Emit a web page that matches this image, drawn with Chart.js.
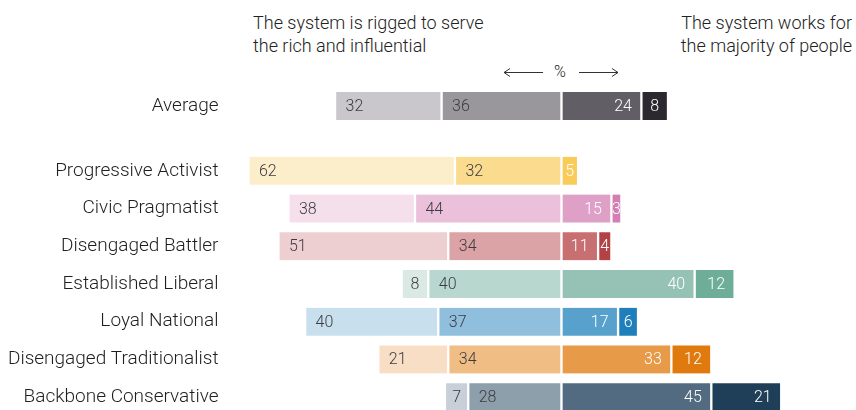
<!DOCTYPE html>
<html>
<head>
<meta charset="utf-8">
<script src="https://cdn.jsdelivr.net/npm/chart.js@4/dist/chart.umd.min.js"></script>
<style>
  html, body { margin: 0; padding: 0; background: #fff; }
  body { width: 856px; height: 410px; overflow: hidden; position: relative; font-family: Roboto, "Noto Sans", sans-serif; color: #222; }
  .hdr { position: absolute; top: 11px; font-size: 18px; font-weight: 300; line-height: 23px; white-space: nowrap; }
  .hdr.left { left: 253px; }
  .hdr.right { right: 4px; text-align: right; }
  .pct { position: absolute; left: 500px; top: 61px; width: 123px; height: 22px; }
  .pct span { position: absolute; left: 0; width: 120px; text-align: center; top: 0; font-size: 16px; font-weight: 300; line-height: 22px; }
  .box { position: absolute; left: 0; width: 856px; }
</style>
</head>
<body>
<div class="hdr left">The system is rigged to serve<br>the rich and influential</div>
<div class="hdr right">The system works for<br>the majority of people</div>
<div class="pct">
  <svg width="123" height="22" style="position:absolute;left:0;top:0">
    <g stroke="#333" stroke-width="1" fill="none">
      <line x1="4" y1="11.5" x2="43" y2="11.5"/>
      <polyline points="10,7.5 4,11.5 10,15.5"/>
      <line x1="79" y1="11.5" x2="118" y2="11.5"/>
      <polyline points="112,7.5 118,11.5 112,15.5"/>
    </g>
  </svg>
  <span>%</span>
</div>
<div class="box" style="top:88px;height:36px"><canvas id="avgChart"></canvas></div>
<div class="box" style="top:152px;height:264px"><canvas id="segChart"></canvas></div>

<script>
// Share of each group saying the system is rigged vs. works (%)
const averageLabel = ['Average'];
const avgRiggedOuter = [32];
const avgRiggedInner = [36];
const avgWorksInner = [24];
const avgWorksOuter = [8];

const segments = [
  'Progressive Activist',
  'Civic Pragmatist',
  'Disengaged Battler',
  'Established Liberal',
  'Loyal National',
  'Disengaged Traditionalist',
  'Backbone Conservative'
];
const riggedOuter = [62, 38, 51, 8, 40, 21, 7];
const riggedInner = [32, 44, 34, 40, 37, 34, 28];
const worksInner  = [5, 15, 11, 40, 17, 33, 45];
const worksOuter  = [null, 3, 4, 12, 6, 12, 21];

// Colour ramps per row: [rigged outer, rigged inner, works inner, works outer]
const averagePalette = [['#c9c7cb', '#99979c', '#625e66', '#2b2830']];
const segmentPalette = [
  ['#fdeecb', '#fbdc8f', '#f9cb59', '#f9cb59'],
  ['#f4dfeb', '#ebc0db', '#dea0c6', '#d47fb3'],
  ['#eecfd1', '#dba3a5', '#c76f71', '#b34245'],
  ['#dbe9e5', '#b8d8cf', '#95c2b4', '#6eae98'],
  ['#c8e0ed', '#8fbfdd', '#58a1cc', '#1f7fbb'],
  ['#f8dec5', '#f0bd85', '#e79a47', '#e07a0f'],
  ['#c8cfd8', '#8e9fac', '#526b80', '#1e3f57']
];

const valueLabels = {
  id: 'valueLabels',
  afterDatasetsDraw(chart) {
    const ctx = chart.ctx;
    ctx.save();
    ctx.font = '300 16px Roboto';
    ctx.textBaseline = 'middle';
    chart.data.datasets.forEach((ds, di) => {
      const meta = chart.getDatasetMeta(di);
      meta.data.forEach((bar, i) => {
        const v = ds.data[i];
        if (v == null) return;
        const p = bar.getProps(['x', 'base', 'y'], true);
        const left = Math.min(p.x, p.base) + 1.5;
        const right = Math.max(p.x, p.base) - 1.5;
        const w = right - left;
        const onLeft = ds.side === 'left';
        ctx.fillStyle = onLeft ? '#3d3b42' : '#ffffff';
        let tx;
        if (w < 30) { tx = (left + right) / 2; ctx.textAlign = 'center'; }
        else if (onLeft) { tx = left + 9; ctx.textAlign = 'left'; }
        else { tx = right - 8; ctx.textAlign = 'right'; }
        ctx.fillText(String(Math.abs(v)), tx, p.y + 1);
      });
    });
    ctx.restore();
  }
};

function buildDatasets(outerL, innerL, innerR, outerR, palette) {
  const common = {
    borderColor: '#ffffff',
    borderWidth: { left: 1.5, right: 1.5, top: 0, bottom: 0 },
    borderSkipped: false,
    barThickness: 28
  };
  return [
    Object.assign({ data: innerL.map(v => -v), side: 'left', backgroundColor: palette.map(c => c[1]) }, common),
    Object.assign({ data: outerL.map(v => -v), side: 'left', backgroundColor: palette.map(c => c[0]) }, common),
    Object.assign({ data: innerR.slice(), side: 'right', backgroundColor: palette.map(c => c[2]) }, common),
    Object.assign({ data: outerR.slice(), side: 'right', backgroundColor: palette.map(c => c[3]) }, common)
  ];
}

function buildOptions() {
  return {
    indexAxis: 'y',
    responsive: true,
    maintainAspectRatio: false,
    animation: false,
    layout: { padding: { left: 0, right: 11.5, top: 0, bottom: 0 } },
    plugins: { legend: { display: false }, tooltip: { enabled: false } },
    scales: {
      x: { stacked: true, display: false, min: -100, max: 85 },
      y: {
        stacked: true,
        grid: { display: false, drawTicks: false },
        border: { display: false },
        ticks: { color: '#1e1e1e', padding: 10, font: { family: 'Roboto', size: 19, weight: '300' } },
        afterFit: s => {
          // fixed label column; no extra vertical room for tick labels
          s.width = 228.5;
          s.paddingTop = 0;
          s.paddingBottom = 0;
        }
      }
    }
  };
}

new Chart(document.getElementById('avgChart'), {
  type: 'bar',
  data: {
    labels: averageLabel,
    datasets: buildDatasets(avgRiggedOuter, avgRiggedInner, avgWorksInner, avgWorksOuter, averagePalette)
  },
  options: buildOptions(),
  plugins: [valueLabels]
});

new Chart(document.getElementById('segChart'), {
  type: 'bar',
  data: {
    labels: segments,
    datasets: buildDatasets(riggedOuter, riggedInner, worksInner, worksOuter, segmentPalette)
  },
  options: buildOptions(),
  plugins: [valueLabels]
});
</script>
</body>
</html>
